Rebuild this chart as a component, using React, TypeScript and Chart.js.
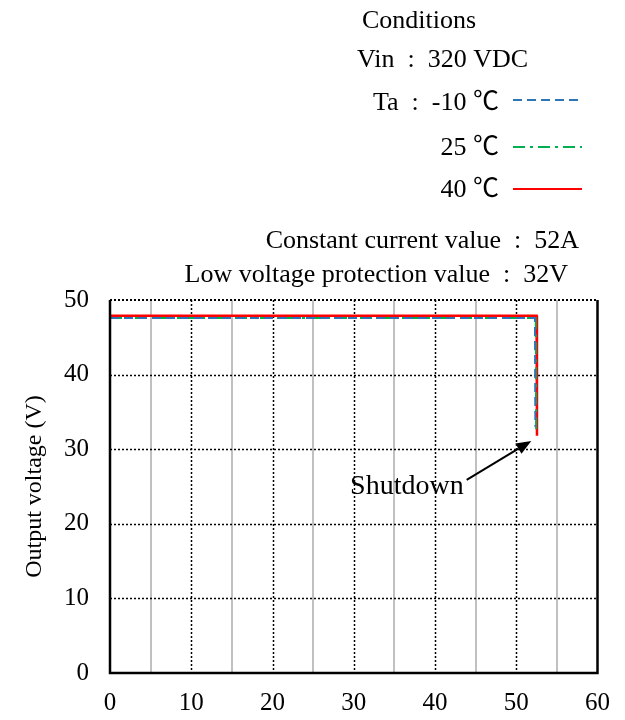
import React, { useEffect, useRef } from "react";
import { Chart, registerables } from "chart.js";

Chart.register(...registerables);

// Output current (A) vs output voltage (V) for each ambient temperature
const currentM10 = [0, 52.3, 52.35];
const voltageM10 = [47.6, 47.6, 33.0];
const current25 = [0, 52.4, 52.45];
const voltage25 = [47.6, 47.6, 32.5];
const current40 = [0, 52.5, 52.55];
const voltage40 = [47.9, 47.9, 31.8];

const xTicks = [0, 10, 20, 30, 40, 50, 60];
const yTicks = [0, 10, 20, 30, 40, 50];
const xGridMinor = [5, 15, 25, 35, 45, 55];
const xGridMajor = [10, 20, 30, 40, 50];
const yGrid = [10, 20, 30, 40];

const conditionLines = [
  "Conditions",
  "Vin  :  320 VDC",
  "Ta  :  -10 ℃",
  "25 ℃",
  "40 ℃",
];
const extraLines = [
  "Constant current value  :  52A",
  "Low voltage protection value  :  32V",
];
const shutdownLabel = "Shutdown";
const shutdownFrom = { x: 43.9, y: 25.9 };
const shutdownTo = { x: 51.85, y: 31.1 };

const BLUE = "#2E75B6";
const GREEN = "#00B050";
const RED = "#FF0000";
const FONT = "'Liberation Serif', 'Times New Roman', 'Noto Sans CJK JP', serif";

function zip(xs: number[], ys: number[]) {
  return xs.map((x, i) => ({ x, y: ys[i] }));
}

const gridPlugin = {
  id: "customGrid",
  beforeDatasetsDraw(chart: any) {
    const { ctx, chartArea: a, scales } = chart;
    const xs = scales.x;
    const ys = scales.y;
    ctx.save();
    ctx.lineWidth = 2;
    ctx.strokeStyle = "#c0c0c0";
    ctx.setLineDash([]);
    xGridMinor.forEach((v) => {
      const px = Math.round(xs.getPixelForValue(v));
      ctx.beginPath();
      ctx.moveTo(px, a.top);
      ctx.lineTo(px, a.bottom);
      ctx.stroke();
    });
    ctx.strokeStyle = "#000";
    ctx.lineWidth = 1.5;
    ctx.setLineDash([2, 2]);
    xGridMajor.forEach((v) => {
      const px = Math.round(xs.getPixelForValue(v)) + 0.5;
      ctx.beginPath();
      ctx.moveTo(px, a.top);
      ctx.lineTo(px, a.bottom);
      ctx.stroke();
    });
    yGrid.forEach((v) => {
      const py = Math.round(ys.getPixelForValue(v)) + 0.5;
      ctx.beginPath();
      ctx.moveTo(a.left, py);
      ctx.lineTo(a.right, py);
      ctx.stroke();
    });
    ctx.restore();
  },
  afterDatasetsDraw(chart: any) {
    const { ctx, chartArea: a, scales } = chart;
    ctx.save();
    // top border dotted
    ctx.strokeStyle = "#000";
    ctx.lineWidth = 2;
    ctx.setLineDash([2, 2]);
    ctx.beginPath();
    ctx.moveTo(a.left, a.top);
    ctx.lineTo(a.right, a.top);
    ctx.stroke();
    ctx.setLineDash([]);
    ctx.lineWidth = 2.5;
    ctx.beginPath();
    ctx.moveTo(a.right, a.top);
    ctx.lineTo(a.right, a.bottom);
    ctx.lineTo(a.left, a.bottom);
    ctx.lineTo(a.left, a.top);
    ctx.stroke();

    // Shutdown annotation
    const xs = scales.x;
    const ys = scales.y;
    const x0 = xs.getPixelForValue(shutdownFrom.x);
    const y0 = ys.getPixelForValue(shutdownFrom.y);
    const x1 = xs.getPixelForValue(shutdownTo.x);
    const y1 = ys.getPixelForValue(shutdownTo.y);
    const ang = Math.atan2(y1 - y0, x1 - x0);
    const headL = 15;
    const headW = 6;
    const bx = x1 - headL * Math.cos(ang);
    const by = y1 - headL * Math.sin(ang);
    ctx.lineWidth = 2;
    ctx.beginPath();
    ctx.moveTo(x0, y0);
    ctx.lineTo(bx, by);
    ctx.stroke();
    ctx.fillStyle = "#000";
    ctx.beginPath();
    ctx.moveTo(x1, y1);
    ctx.lineTo(bx + headW * Math.sin(ang), by - headW * Math.cos(ang));
    ctx.lineTo(bx - headW * Math.sin(ang), by + headW * Math.cos(ang));
    ctx.closePath();
    ctx.fill();
    ctx.font = `28px ${FONT}`;
    ctx.textAlign = "right";
    ctx.textBaseline = "alphabetic";
    ctx.fillText(shutdownLabel, x0 - 3, y0 + 14);
    ctx.restore();
  },
  afterDraw(chart: any) {
    const { ctx } = chart;
    ctx.save();
    ctx.fillStyle = "#000";
    ctx.font = `26px ${FONT}`;
    ctx.textBaseline = "alphabetic";
    ctx.textAlign = "left";
    ctx.fillText(conditionLines[0], 362, 28);
    ctx.fillText(conditionLines[1], 357, 67);
    ctx.textAlign = "right";
    ctx.fillText(conditionLines[2], 499, 110);
    ctx.fillText(conditionLines[3], 499, 155);
    ctx.fillText(conditionLines[4], 499, 197);
    ctx.fillText(extraLines[0], 579, 248);
    ctx.fillText(extraLines[1], 568, 282);
    // legend samples
    const samples: [number, string, number[]][] = [
      [100, BLUE, [9, 5]],
      [147, GREEN, [12, 5, 3, 5]],
      [189, RED, []],
    ];
    samples.forEach(([y, c, d]) => {
      ctx.strokeStyle = c;
      ctx.lineWidth = 2;
      ctx.setLineDash(d);
      ctx.beginPath();
      ctx.moveTo(513, y);
      ctx.lineTo(582, y);
      ctx.stroke();
    });
    ctx.restore();
  },
};

export default function App() {
  const ref = useRef<HTMLCanvasElement>(null);
  useEffect(() => {
    document.body.style.margin = "0";
    const chart = new Chart(ref.current!, {
      type: "scatter",
      data: {
        datasets: [
          {
            label: "-10 ℃",
            data: zip(currentM10, voltageM10),
            showLine: true,
            borderColor: BLUE,
            borderWidth: 2,
            borderDash: [9, 5],
            pointRadius: 0,
          },
          {
            label: "25 ℃",
            data: zip(current25, voltage25),
            showLine: true,
            borderColor: GREEN,
            borderWidth: 2,
            borderDash: [12, 5, 3, 5],
            pointRadius: 0,
          },
          {
            label: "40 ℃",
            data: zip(current40, voltage40),
            showLine: true,
            borderColor: RED,
            borderWidth: 2.5,
            pointRadius: 0,
          },
        ],
      },
      options: {
        animation: false,
        responsive: false,
        maintainAspectRatio: false,
        layout: { padding: { top: 300, right: 27, left: 0, bottom: 0 } },
        plugins: { legend: { display: false }, tooltip: { enabled: false } },
        scales: {
          x: {
            type: "linear",
            min: 0,
            max: 60,
            afterBuildTicks: (s: any) => {
              s.ticks = xTicks.map((v) => ({ value: v }));
            },
            afterFit: (s: any) => {
              s.height = 47;
            },
            grid: { display: false, drawTicks: false },
            border: { display: false },
            ticks: {
              padding: 15,
              color: "#000",
              font: { family: FONT, size: 25 },
              maxRotation: 0,
            },
          },
          y: {
            type: "linear",
            min: 0,
            max: 50,
            afterBuildTicks: (s: any) => {
              s.ticks = yTicks.map((v) => ({ value: v }));
            },
            afterFit: (s: any) => {
              s.width = 110;
            },
            grid: { display: false, drawTicks: false },
            border: { display: false },
            ticks: {
              padding: 21,
              color: "#000",
              font: { family: FONT, size: 25 },
            },
            title: {
              display: true,
              text: "Output voltage (V)",
              color: "#000",
              font: { family: FONT, size: 24 },
              padding: { top: 20, bottom: 0 },
            },
          },
        },
      },
      plugins: [gridPlugin],
    });
    return () => chart.destroy();
  }, []);
  return <canvas ref={ref} width={625} height={720} style={{ display: "block" }} />;
}
